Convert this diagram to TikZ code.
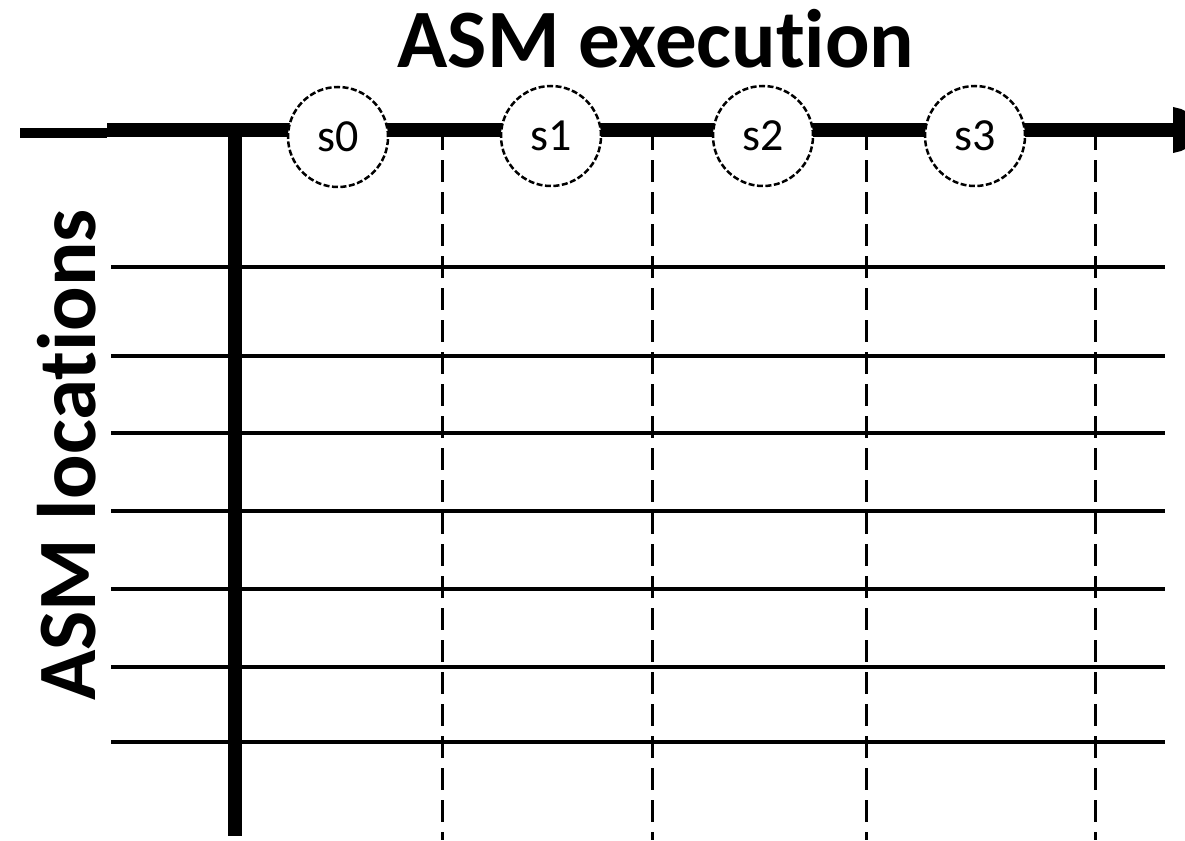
\documentclass[tikz,border=0pt]{standalone}
\usepackage{fontspec}
\setmainfont{Carlito}[Ligatures=NoCommon]
\begin{document}
\begin{tikzpicture}[x=1pt,y=-1pt,
  axis/.style={line width=13pt},
  row/.style={line width=3.5pt},
  tick/.style={line width=3pt, dash pattern=on 22pt off 10pt},
  statenode/.style={circle, draw, line width=2.5pt, dash pattern=on 6pt off 2.5pt,
    minimum size=100pt, inner sep=0pt, fill=white,
    font=\fontsize{46}{50}\selectfont},
  heading/.style={font=\bfseries\fontsize{83}{90}\selectfont, inner sep=0pt}]
\useasboundingbox (0,0) rectangle (1185,840);

% storage locations (rows)
\foreach \y [count=\i] in {267,356,433,511,589,667,742} {
  \coordinate (rl\i) at (111,\y);
  \coordinate (rr\i) at (1165,\y);
  \draw[row] (rl\i) -- (rr\i);
}

% step boundaries (dashed columns)
\foreach \x [count=\i] in {442,652,866,1095} {
  \coordinate (ct\i) at (\x,128);
  \coordinate (cb\i) at (\x,840);
  \draw[tick] (ct\i) -- (cb\i);
}

% axes
\coordinate (hs) at (20,133);
\coordinate (hj) at (107,133);
\coordinate (ha) at (107,130);
\coordinate (he) at (1174,130);
\coordinate (vt) at (235,124);
\coordinate (vb) at (235,836);
\draw[line width=10pt] (hs) -- (hj);
\draw[axis] (ha) -- (he);
\fill (1173,107) -- (1181,109) -- (1185,111) -- (1185,149) -- (1181,151) -- (1173,153) -- cycle;
\draw[line width=14pt] (vt) -- (vb);

% states
\node[statenode] (s0) at (338,137) {s0};
\node[statenode] (s1) at (551,136) {s1};
\node[statenode] (s2) at (763,136) {s2};
\node[statenode] (s3) at (975,136) {s3};

% titles
\node[heading, anchor=base] (exec) at (656,68) {ASM execution};
\node[heading, anchor=base, rotate=90] (locs) at (95,455) {ASM locations};
\end{tikzpicture}
\end{document}
